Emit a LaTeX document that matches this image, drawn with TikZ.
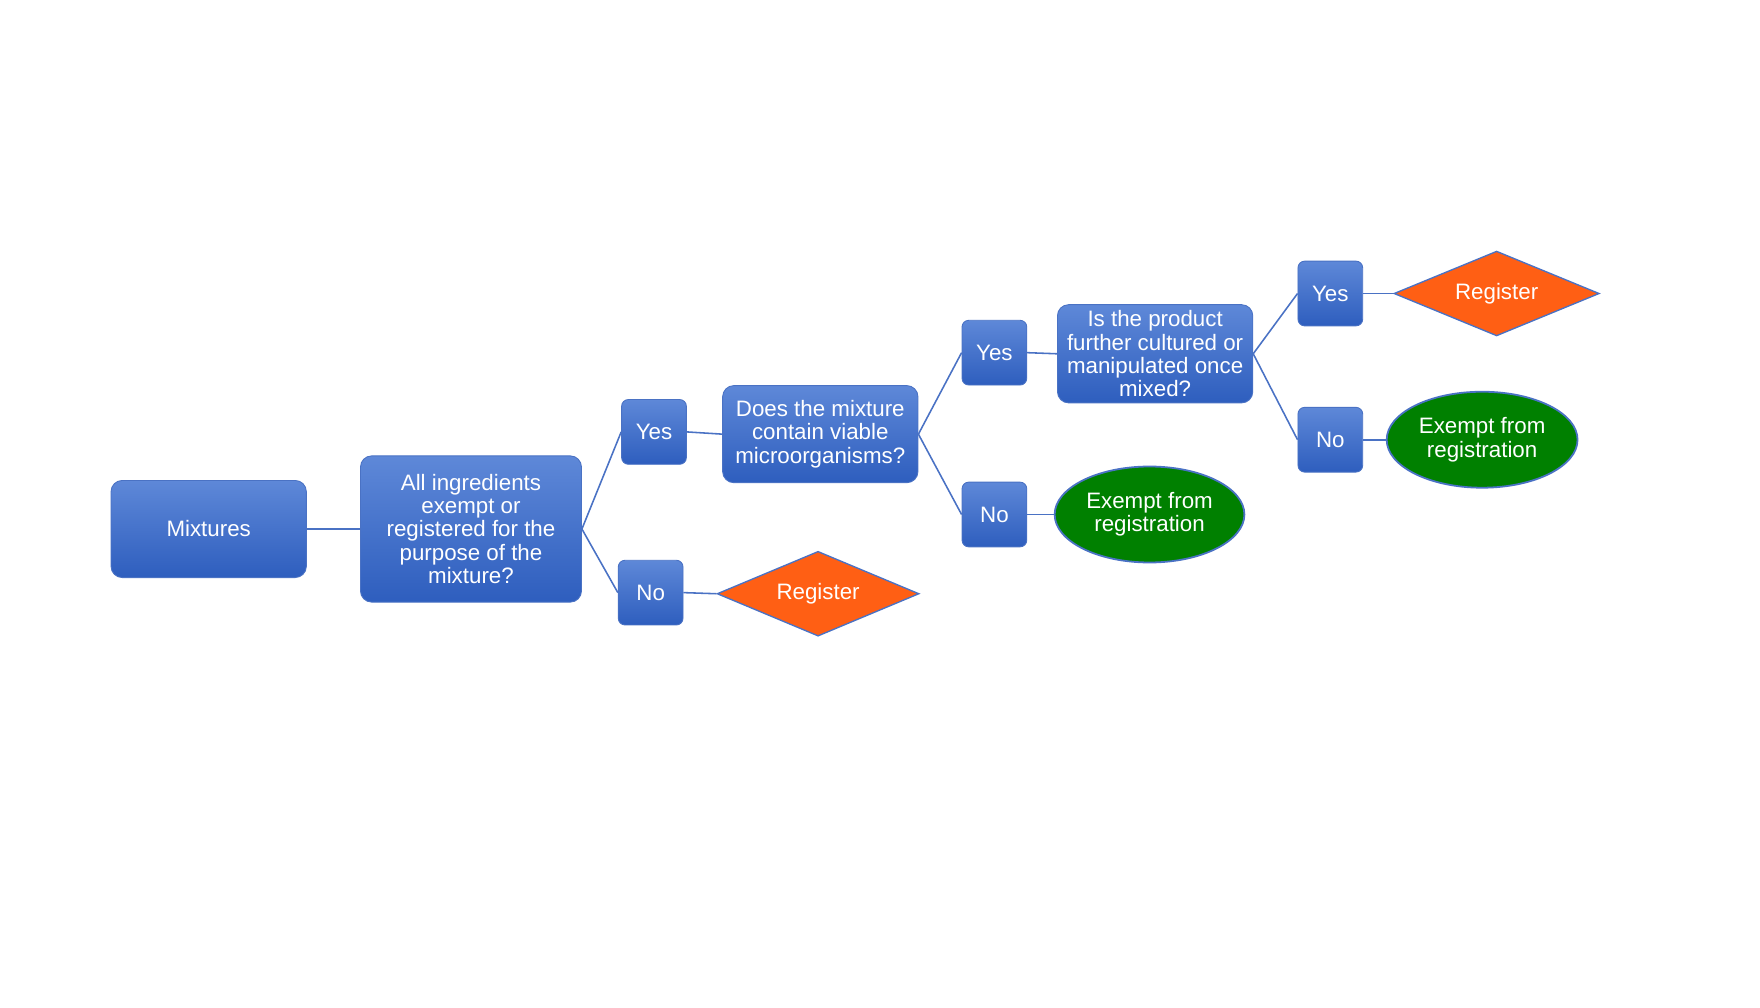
\documentclass[tikz,border=0pt]{standalone}
\usepackage{fontspec}
\setmainfont{Liberation Sans}
\usetikzlibrary{shapes.geometric}
\definecolor{btop}{HTML}{5E88D8}
\definecolor{bbot}{HTML}{2E5EBE}
\definecolor{edge}{HTML}{4A72C4}
\definecolor{orng}{HTML}{FF5F14}
\definecolor{grn}{HTML}{008000}
\tikzset{
  bx/.style={rectangle, rounded corners=5pt, top color=btop, bottom color=bbot, draw=edge, line width=0.4pt, text=white, align=center, font=\fontsize{10}{10.5}\selectfont, inner sep=0pt},
  yn/.style={bx, minimum width=29pt, minimum height=29pt, rounded corners=3pt},
  reg/.style={diamond, aspect=2.4, fill=orng, draw=edge, line width=0.6pt, text=white, font=\fontsize{10}{10.5}\selectfont, inner sep=0pt},
  ex/.style={ellipse, fill=grn, draw=edge, line width=0.8pt, text=white, align=center, font=\fontsize{10}{10.5}\selectfont, inner sep=0pt},
  ln/.style={draw=edge, line width=0.7pt}
}
\begin{document}
\begin{tikzpicture}[x=0.5pt,y=-0.5pt]
\useasboundingbox (0,0) rectangle (1577,903);
\node[bx, minimum width=87.5pt, minimum height=43.5pt] (mix) at (187,474) {Mixtures};
\node[bx, minimum width=99pt, minimum height=65.5pt] (all) at (422,474) {All ingredients\\exempt or\\registered for the\\purpose of the\\mixture?};
\node[yn] (y1) at (586,387) {Yes};
\node[yn] (n1) at (583,531) {No};
\node[reg, minimum width=90.5pt, minimum height=38pt] (r1) at (733,532) {Register};
\node[bx, minimum width=87.5pt, minimum height=43.5pt] (does) at (735,389) {Does the mixture\\contain viable\\microorganisms?};
\node[yn] (y2) at (891,316) {Yes};
\node[yn] (n2) at (891,461) {No};
\node[ex, minimum width=85pt, minimum height=43pt] (e1) at (1030,461) {Exempt from\\registration};
\node[bx, minimum width=87.5pt, minimum height=44pt] (is) at (1035,317) {Is the product\\further cultured or\\manipulated once\\mixed?};
\node[yn] (y3) at (1192,263) {Yes};
\node[yn] (n3) at (1192,394) {No};
\node[reg, minimum width=92pt, minimum height=38pt] (r2) at (1341,263) {Register};
\node[ex, minimum width=85.5pt, minimum height=43pt] (e2) at (1328,394) {Exempt from\\registration};
\draw[ln] (mix.east) -- (all.west);
\draw[ln] (all.east) -- (y1.west);
\draw[ln] (all.east) -- (n1.west);
\draw[ln] (n1.east) -- (r1.west);
\draw[ln] (y1.east) -- (does.west);
\draw[ln] (does.east) -- (y2.west);
\draw[ln] (does.east) -- (n2.west);
\draw[ln] (n2.east) -- (e1.west);
\draw[ln] (y2.east) -- (is.west);
\draw[ln] (is.east) -- (y3.west);
\draw[ln] (is.east) -- (n3.west);
\draw[ln] (y3.east) -- (r2.west);
\draw[ln] (n3.east) -- (e2.west);
\end{tikzpicture}
\end{document}
